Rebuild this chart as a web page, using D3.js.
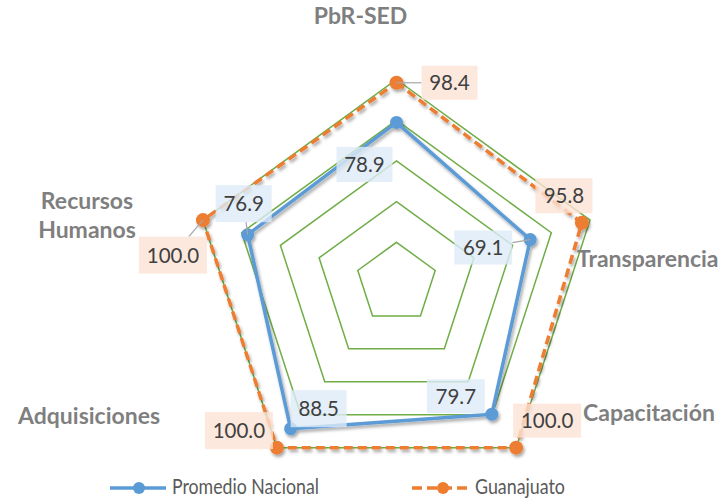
<!DOCTYPE html>
<html><head><meta charset="utf-8">
<script src="https://cdn.jsdelivr.net/npm/d3@7/dist/d3.min.js"></script>
<style>
html,body{margin:0;padding:0;background:#fff;}
svg{display:block;font-family:Lato,"Open Sans",sans-serif;}
</style></head>
<body>
<svg id="c" width="725" height="500"></svg>
<script>
// ---- data ----
const categories = ["PbR-SED","Transparencia","Capacitación","Adquisiciones","Recursos Humanos"];
const promedioNacional = [78.9, 69.1, 79.7, 88.5, 76.9];
const guanajuato = [98.4, 95.8, 100.0, 100.0, 100.0];
const seriesNames = ["Promedio Nacional","Guanajuato"];
const gridTicks = [20, 40, 60, 80, 100];

// ---- layout / style (not data) ----
const W = 725, H = 500;
const cx = 396.5, cy = 283, R = 203.5;
const blue = "#5B9BD5", orange = "#ED7D31", green = "#70AD47";

// label box offsets from point [dx, dy, w, h, leader]
const blueLabelPos = [[-32,42,56,35,false],[-47,8,58,34,true],[-36,-18,58,34,false],[28,-20,56,37,false],[-4,-31,56,37,true]];
const orangeLabelPos = [[53,0,56,34,true],[-18,-27,57,35,false],[31,-27,68,34,false],[-38,-17,68,37,false],[-30,35,68,37,true]];
// axis label placements
const axisLabelPos = [
  {x:360.5, y:24, anchor:"middle", lines:["PbR-SED"]},
  {x:577, y:267, anchor:"start", lines:["Transparencia"]},
  {x:583, y:421, anchor:"start", lines:["Capacitación"]},
  {x:18, y:424, anchor:"start", lines:["Adquisiciones"]},
  {x:87, y:209, anchor:"middle", lines:["Recursos","Humanos"]}
];

const svg = d3.select("#c");
const defs = svg.append("defs");
const f = defs.append("filter").attr("id","sh").attr("x","-20%").attr("y","-20%").attr("width","140%").attr("height","140%");
f.append("feDropShadow").attr("dx",1.5).attr("dy",2.5).attr("stdDeviation",1.6).attr("flood-color","#000").attr("flood-opacity",0.35);

const r = d3.scaleLinear().domain([0,100]).range([0,R]);
const angle = d3.scaleBand().domain(categories).range([0, 2*Math.PI]).paddingInner(0).paddingOuter(0);
const ang = c => angle(c);
const pt = (c, v) => [cx + r(v)*Math.sin(ang(c)), cy - r(v)*Math.cos(ang(c))];

const line = d3.line().curve(d3.curveLinearClosed);

// grid rings
svg.append("g").selectAll("path").data(gridTicks).join("path")
  .attr("d", t => line(categories.map(c => pt(c, t))))
  .attr("fill","none").attr("stroke",green).attr("stroke-width",1.5);

// series
function drawSeries(vals, color, dash, mr){
  const g = svg.append("g").attr("filter","url(#sh)");
  g.append("path").attr("d", line(categories.map((c,i)=>pt(c, vals[i]))))
    .attr("fill","none").attr("stroke",color).attr("stroke-width",3.5)
    .attr("stroke-dasharray", dash ? "9,5" : null).attr("stroke-linejoin","round");
  g.selectAll("circle").data(vals).join("circle")
    .attr("cx",(v,i)=>pt(categories[i],v)[0]).attr("cy",(v,i)=>pt(categories[i],v)[1])
    .attr("r",mr).attr("fill",color);
}
drawSeries(promedioNacional, blue, false, 6.5);
drawSeries(guanajuato, orange, true, 7);

// data labels
function drawLabels(vals, pos, bg){
  const g = svg.append("g");
  vals.forEach((v,i)=>{
    const [px,py] = pt(categories[i], v);
    const [dx,dy,w,h,lead] = pos[i];
    const bx = px+dx, by = py+dy;
    if(lead){
      const x0=bx-w/2,x1=bx+w/2,y0=by-h/2,y1=by+h/2;
      let t=1;
      const vx=bx-px, vy=by-py;
      [[x0,'x'],[x1,'x'],[y0,'y'],[y1,'y']].forEach(([e,ax])=>{
        const tt = ax==='x' ? (e-px)/vx : (e-py)/vy;
        if(tt>0 && tt<t){
          const qx=px+vx*tt, qy=py+vy*tt;
          if(qx>=x0-0.01&&qx<=x1+0.01&&qy>=y0-0.01&&qy<=y1+0.01) t=tt;
        }
      });
      g.append("line").attr("x1",px).attr("y1",py).attr("x2",px+vx*t).attr("y2",py+vy*t)
        .attr("stroke","#A6A6A6").attr("stroke-width",1.2);
    }
    g.append("rect").attr("x",bx-w/2).attr("y",by-h/2).attr("width",w).attr("height",h)
      .attr("fill",bg).attr("fill-opacity",0.8);
    g.append("text").attr("x",bx).attr("y",by+7.5).attr("text-anchor","middle")
      .attr("font-size",20.5).attr("fill","#404040").text(v.toFixed(1));
  });
}
drawLabels(promedioNacional, blueLabelPos, "#DDEBF7");
drawLabels(guanajuato, orangeLabelPos, "#FBE2D5");

// axis labels
const al = svg.append("g");
categories.forEach((c,i)=>{
  const p = axisLabelPos[i];
  const t = al.append("text").attr("x",p.x).attr("y",p.y).attr("text-anchor",p.anchor)
    .attr("font-size",23).attr("font-weight","bold").attr("fill","#7F7F7F");
  p.lines.forEach((l,k)=> t.append("tspan").attr("x",p.x).attr("dy",k?29:0).text(l));
});

// legend
const lg = svg.append("g");
lg.append("line").attr("x1",110).attr("x2",166).attr("y1",488).attr("y2",488).attr("stroke",blue).attr("stroke-width",3.5);
lg.append("circle").attr("cx",139).attr("cy",488).attr("r",6).attr("fill",blue);
lg.append("text").attr("x",172).attr("y",494).attr("font-size",21).attr("fill","#595959")
  .attr("textLength",147).attr("lengthAdjust","spacingAndGlyphs").text(seriesNames[0]);
lg.append("line").attr("x1",412).attr("x2",470).attr("y1",488).attr("y2",488).attr("stroke",orange).attr("stroke-width",3.5).attr("stroke-dasharray","10,5");
lg.append("circle").attr("cx",443).attr("cy",488).attr("r",6).attr("fill",orange);
lg.append("text").attr("x",475).attr("y",494).attr("font-size",21).attr("fill","#595959")
  .attr("textLength",90).attr("lengthAdjust","spacingAndGlyphs").text(seriesNames[1]);
</script>
</body></html>
